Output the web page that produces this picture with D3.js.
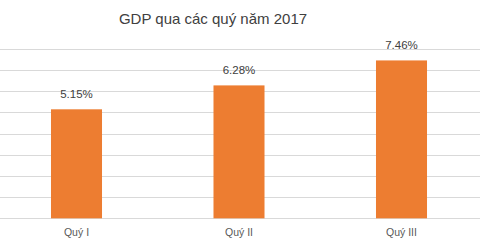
<!DOCTYPE html>
<html><head><meta charset="utf-8">
<script src="https://cdn.jsdelivr.net/npm/d3@7"></script>
<style>html,body{margin:0;padding:0;background:#fff;}svg{display:block;}</style>
</head><body>
<script>
const title = "GDP qua các quý năm 2017";
const categories = ["Quý I", "Quý II", "Quý III"];
const values = [5.15, 6.28, 7.46];
const valueLabels = ["5.15%", "6.28%", "7.46%"];
const yTicks = [0, 1, 2, 3, 4, 5, 6, 7, 8];

const W = 480, H = 251;
const svg = d3.select("body").append("svg").attr("width", W).attr("height", H);

const x = d3.scaleBand().domain(categories).range([-4.75, 482.75]).paddingInner(0.686).paddingOuter(0.343);
const y = d3.scaleLinear().domain([0, 8]).range([218.3, 49]);

svg.append("g").selectAll("line").data(yTicks).join("line")
  .attr("x1", 0).attr("x2", W)
  .attr("y1", d => Math.round(y(d)) + 0.5).attr("y2", d => Math.round(y(d)) + 0.5)
  .attr("stroke", "#d9d9d9").attr("stroke-width", 1);

svg.append("g").selectAll("rect").data(values).join("rect")
  .attr("x", (d, i) => x(categories[i]))
  .attr("width", x.bandwidth())
  .attr("y", d => y(d))
  .attr("height", d => y(0) - y(d))
  .attr("fill", "#ED7D31");

svg.append("g").selectAll("text").data(values).join("text")
  .attr("x", (d, i) => x(categories[i]) + x.bandwidth() / 2)
  .attr("y", d => y(d) - 11.5)
  .attr("text-anchor", "middle")
  .attr("font-family", "Liberation Sans, Arial, sans-serif")
  .attr("font-size", 11.5)
  .attr("fill", "#404040")
  .text((d, i) => valueLabels[i]);

svg.append("g").selectAll("text").data(categories).join("text")
  .attr("x", d => x(d) + x.bandwidth() / 2)
  .attr("y", 236)
  .attr("text-anchor", "middle")
  .attr("font-family", "Liberation Sans, Arial, sans-serif")
  .attr("font-size", 10.5)
  .attr("fill", "#595959")
  .text(d => d);

svg.append("text")
  .attr("x", 213).attr("y", 24)
  .attr("text-anchor", "middle")
  .attr("font-family", "Liberation Sans, Arial, sans-serif")
  .attr("font-size", 15)
  .attr("fill", "#404040")
  .text(title);
</script>
</body></html>
